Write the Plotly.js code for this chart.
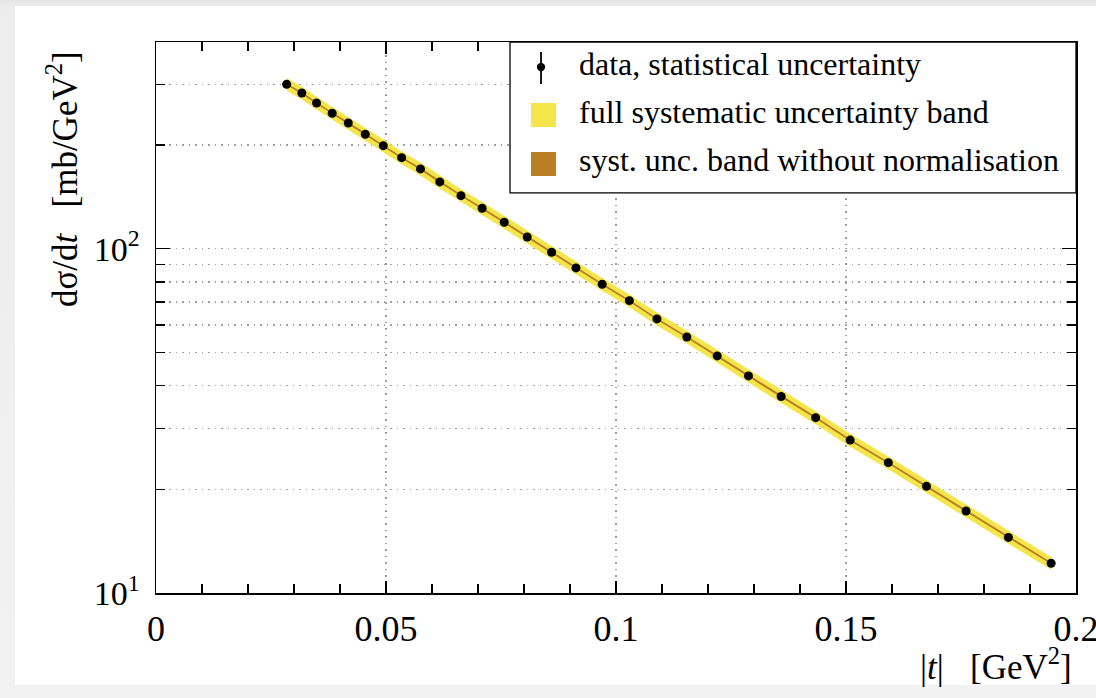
<!DOCTYPE html>
<html>
<head>
<meta charset="utf-8">
<script src="https://cdn.plot.ly/plotly-3.0.1.min.js"></script>
<style>
  html, body { margin:0; padding:0; width:1096px; height:698px; overflow:hidden;
    background: linear-gradient(to bottom, #e4e4e4 0px, #ececec 6px, #f2f2f2 690px); }
  #frame { position:absolute; left:15px; top:6px; width:1081px; height:679px; background:#fff; }
  #chart { position:absolute; left:15px; top:6px; width:1081px; height:692px; }
</style>
</head>
<body>
<div id="frame"></div>
<div id="chart"></div>
<script>
// |t| values [GeV^2]
const tAbs = [0.0284, 0.0317, 0.0349, 0.0383, 0.0418, 0.0455, 0.0494, 0.0534, 0.0575, 0.0617,
              0.0663, 0.0709, 0.0757, 0.0807, 0.0860, 0.0913, 0.0970, 0.1029, 0.1089, 0.1154,
              0.1220, 0.1288, 0.1359, 0.1434, 0.1509, 0.1592, 0.1675, 0.1761, 0.1853, 0.1946];
// dsigma/dt [mb/GeV^2]
const dsdt = [300.1, 283.1, 264.8, 247.2, 231.7, 214.8, 199.1, 183.7, 170.4, 156.2,
              142.5, 131.0, 119.3, 108.1, 97.6, 87.9, 78.8, 70.6, 62.5, 55.4,
              48.8, 42.7, 37.2, 32.3, 27.8, 23.9, 20.4, 17.3, 14.5, 12.2];
// relative statistical uncertainty
const statRel = [0.004, 0.004, 0.004, 0.004, 0.004, 0.004, 0.004, 0.004, 0.004, 0.004,
                 0.004, 0.004, 0.004, 0.004, 0.004, 0.004, 0.005, 0.005, 0.005, 0.005,
                 0.005, 0.005, 0.005, 0.006, 0.006, 0.006, 0.006, 0.007, 0.007, 0.007];
// relative full systematic uncertainty
const systFullRel = [0.043, 0.043, 0.043, 0.043, 0.043, 0.043, 0.043, 0.043, 0.043, 0.043,
                     0.043, 0.043, 0.043, 0.043, 0.043, 0.043, 0.043, 0.043, 0.043, 0.043,
                     0.043, 0.043, 0.043, 0.043, 0.043, 0.043, 0.043, 0.043, 0.043, 0.043];
// relative systematic uncertainty without normalisation
const systNoNormRel = [0.007, 0.007, 0.007, 0.007, 0.007, 0.007, 0.007, 0.007, 0.007, 0.007,
                       0.007, 0.007, 0.007, 0.007, 0.007, 0.007, 0.007, 0.007, 0.007, 0.007,
                       0.007, 0.007, 0.007, 0.007, 0.007, 0.007, 0.007, 0.007, 0.007, 0.007];
// axis ticks
const xTickVals = [0, 0.05, 0.1, 0.15, 0.2];
const xTickText = ['0', '0.05', '0.1', '0.15', '0.2'];
const xMinorVals = [0.01, 0.02, 0.03, 0.04, 0.06, 0.07, 0.08, 0.09, 0.11, 0.12, 0.13, 0.14, 0.16, 0.17, 0.18, 0.19];
const yTickVals = [10, 100];
const yTickText = ['10<sup>1</sup>', '10<sup>2</sup>'];
const yMinorVals = [20, 30, 40, 50, 60, 70, 80, 90, 200, 300];
// legend labels
const legendLabels = ['data, statistical uncertainty', 'full systematic uncertainty band', 'syst. unc. band without normalisation'];
const xTitle = '|<i>t</i>|\u00a0\u00a0\u00a0[GeV<sup>2</sup>]';
const yTitle = 'd\u03c3/d<i>t</i>\u00a0\u00a0\u00a0[mb/GeV<sup>2</sup>]';

const YELLOW = '#f4e64a';
const BROWN = '#b97f21';
const FONT = 'Liberation Serif, Times New Roman, serif';

function band(rel) {
  const up = dsdt.map((v, i) => v * (1 + rel[i]));
  const lo = dsdt.map((v, i) => v * (1 - rel[i]));
  return { x: tAbs.concat(tAbs.slice().reverse()), y: up.concat(lo.slice().reverse()) };
}
const bFull = band(systFullRel);
const bPart = band(systNoNormRel);

const traces = [
  { x: bFull.x, y: bFull.y, type: 'scatter', mode: 'lines', fill: 'toself',
    fillcolor: YELLOW, line: { width: 0, color: YELLOW }, name: legendLabels[1], showlegend: false, hoverinfo: 'skip' },
  { x: bPart.x, y: bPart.y, type: 'scatter', mode: 'lines', fill: 'toself',
    fillcolor: BROWN, line: { width: 0, color: BROWN }, name: legendLabels[2], showlegend: false, hoverinfo: 'skip' },
  { x: tAbs, y: dsdt, type: 'scatter', mode: 'markers', name: legendLabels[0], showlegend: false,
    marker: { color: '#000', size: 9 },
    error_y: { type: 'data', array: dsdt.map((v, i) => v * statRel[i]), color: '#000', thickness: 1.5, width: 0 } }
];

// legend drawn in paper coordinates
const lx = 0.4185, sq0 = 0.4076, sq1 = 0.4348, tx = 0.4576;
const shapes = [
  { type: 'rect', xref: 'paper', yref: 'paper', x0: 0.3848, x1: 1, y0: 0.726, y1: 1,
    fillcolor: '#fff', line: { color: '#000', width: 1.3 }, layer: 'above' },
  { type: 'line', xref: 'paper', yref: 'paper', x0: lx, x1: lx, y0: 0.9238, y1: 0.9819,
    line: { color: '#000', width: 1.8 }, layer: 'above' },
  { type: 'circle', xref: 'paper', yref: 'paper', x0: lx - 0.0045, x1: lx + 0.0045, y0: 0.9546 - 0.0075, y1: 0.9546 + 0.0075,
    fillcolor: '#000', line: { color: '#000', width: 0 }, layer: 'above' },
  { type: 'rect', xref: 'paper', yref: 'paper', x0: sq0, x1: sq1, y0: 0.8457, y1: 0.8893,
    fillcolor: YELLOW, line: { width: 0 }, layer: 'above' },
  { type: 'rect', xref: 'paper', yref: 'paper', x0: sq0, x1: sq1, y0: 0.7568, y1: 0.8004,
    fillcolor: BROWN, line: { width: 0 }, layer: 'above' }
];
const legendY = [0.9600, 0.8730, 0.7860];
const annotations = legendLabels.map((s, i) => ({
  text: s, xref: 'paper', yref: 'paper', x: tx, y: legendY[i], xanchor: 'left', yanchor: 'middle',
  showarrow: false, font: { family: FONT, size: 32, color: '#000' }
}));
annotations.push({ text: xTitle, xref: 'paper', yref: 'paper', x: 0.9978, y: -0.1289,
  xanchor: 'right', yanchor: 'middle', showarrow: false, font: { family: FONT, size: 35, color: '#000' } });
annotations.push({ text: yTitle, xref: 'paper', yref: 'paper', x: -0.1010, y: 0.9873, textangle: -90,
  xanchor: 'center', yanchor: 'top', showarrow: false, font: { family: FONT, size: 35, color: '#000' } });

const gridStyle = { gridcolor: '#a0a0a0', gridwidth: 1.5, griddash: '1.5px,5px' };

const layout = {
  width: 1081, height: 692,
  margin: { l: 141, r: 20, t: 36, b: 105 },
  paper_bgcolor: 'rgba(0,0,0,0)', plot_bgcolor: '#fff',
  showlegend: false,
  font: { family: FONT, color: '#000' },
  xaxis: Object.assign({
    range: [0, 0.2], tickmode: 'array', tickvals: xTickVals, ticktext: xTickText,
    ticks: 'inside', ticklen: 12, tickwidth: 1.3, tickcolor: '#000',
    showline: true, linecolor: '#000', linewidth: 1.5, mirror: 'allticks',
    showgrid: true, zeroline: false, ticklabelstandoff: 3, ticklabeloverflow: 'allow',
    tickfont: { family: FONT, size: 36, color: '#000' },
    minor: { tickmode: 'array', tickvals: xMinorVals, ticks: 'inside', ticklen: 9, tickwidth: 1.2, tickcolor: '#000', showgrid: false }
  }, gridStyle),
  yaxis: Object.assign({
    type: 'log', range: [1, 2.6], tickmode: 'array', tickvals: yTickVals, ticktext: yTickText,
    ticks: 'inside', ticklen: 14, tickwidth: 1.3, tickcolor: '#000',
    showline: true, linecolor: '#000', linewidth: 1.5, mirror: 'allticks',
    showgrid: true, zeroline: false, ticklabelstandoff: 8, ticklabeloverflow: 'allow',
    tickfont: { family: FONT, size: 34, color: '#000' },
    minor: Object.assign({ tickmode: 'array', tickvals: yMinorVals, ticks: 'inside', ticklen: 9, tickwidth: 1.2, tickcolor: '#000', showgrid: true }, gridStyle)
  }, gridStyle),
  shapes: shapes,
  annotations: annotations
};

Plotly.newPlot('chart', traces, layout, { staticPlot: true, displayModeBar: false });
</script>
</body>
</html>
